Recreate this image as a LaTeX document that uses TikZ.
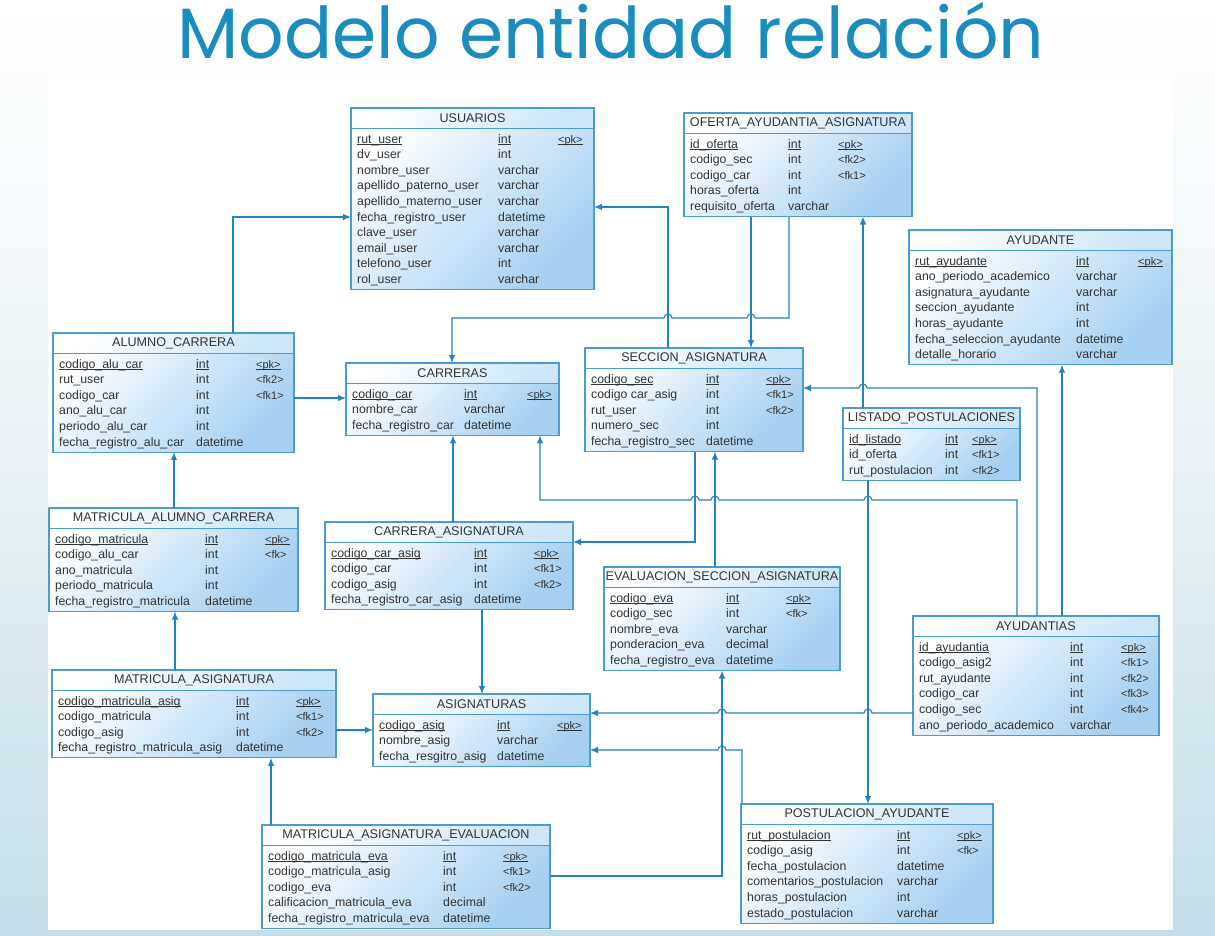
\documentclass[tikz,border=0pt]{standalone}
\usepackage{fontspec}
\usepackage{graphicx}
\setmainfont{Liberation Sans}
\newfontfamily\titlefont{Poppins}
\usetikzlibrary{arrows.meta,calc}
\definecolor{ttl}{RGB}{27,140,190}
\definecolor{lnc}{RGB}{35,130,192}
\definecolor{brd}{RGB}{75,155,210}
\definecolor{bodyb}{RGB}{165,208,242}
\definecolor{headb}{RGB}{205,231,249}
\definecolor{txt}{RGB}{50,50,50}
\definecolor{bgb}{RGB}{196,221,232}
\newsavebox\pkbox
\newcommand{\pkul}[1]{\sbox\pkbox{#1}\rlap{\rule[-1.9pt]{\wd\pkbox}{0.7pt}}\usebox\pkbox}
\tikzset{
  tblbox/.style={top color=white, bottom color=bodyb, shading angle=45, anchor=north west, inner sep=0pt, outer sep=0pt},
  ttlt/.style={text=txt, font=\fontsize{12.6}{14}\selectfont, inner sep=0pt},
  fld/.style={text=txt, font=\fontsize{12.3}{14}\selectfont, inner sep=0pt, anchor=base west},
  keyt/.style={text=txt, font=\fontsize{11}{13}\selectfont, inner sep=0pt, anchor=base west},
  fk/.style={draw=lnc, line width=1.1pt, -{Latex[length=8pt,width=6.5pt]}},
}
\newcommand{\ertable}[9]{%
  \pgfmathsetmacro{\tblh}{20+#5*15.6+5.5}
  \node[tblbox, minimum width=#4pt, minimum height=\tblh pt] (#1) at (#2,#3) {};
  \shade[top color=white, bottom color=headb, shading angle=45] (#1.north west) rectangle ($(#1.north east)+(0,20)$);
  \draw[brd, line width=1.1pt] (#1.north west) rectangle (#1.south east);
  \draw[brd, line width=0.9pt] ($(#1.north west)+(0,20)$) -- ($(#1.north east)+(0,20)$);
  \node[ttlt] (#1-title) at ($(#1.north)+(0,10.5)$) {#6};
  \foreach \f/\t/\k [count=\i] in {#9} {
    \pgfmathsetmacro{\ry}{35+(\i-1)*15.6}
    \node[fld] (#1-f\i) at ($(#1.north west)+(6,\ry)$) {\f};
    \node[fld] (#1-t\i) at ($(#1.north west)+(#7,\ry)$) {\t};
    \node[keyt] (#1-k\i) at ($(#1.north west)+(#8,\ry)$) {\k};
  }
}
\begin{document}
\begin{tikzpicture}[x=1pt,y=-1pt]
\useasboundingbox (0,0) rectangle (1215,935);
\shade[top color=white, bottom color=bgb, middle color=white!60!bgb] (0,0) rectangle (1215,935);
\fill[white] (48,78) rectangle (1173,930);
\node[text=ttl, anchor=base, inner sep=0pt] (title) at (611,58) {\resizebox{867pt}{!}{\titlefont Modelo entidad relación}};

\ertable{usr}{351}{108}{243}{10}{USUARIOS}{147}{207}{%
\pkul{rut\_user}/\pkul{int}/\pkul{<pk>},
dv\_user/int/{},
nombre\_user/varchar/{},
apellido\_paterno\_user/varchar/{},
apellido\_materno\_user/varchar/{},
fecha\_registro\_user/datetime/{},
clave\_user/varchar/{},
email\_user/varchar/{},
telefono\_user/int/{},
rol\_user/varchar/{}}

\ertable{ofe}{684}{113}{228}{5}{OFERTA\_AYUDANTIA\_ASIGNATURA}{104}{154}{%
\pkul{id\_oferta}/\pkul{int}/\pkul{<pk>},
codigo\_sec/int/<fk2>,
codigo\_car/int/<fk1>,
horas\_oferta/int/{},
requisito\_oferta/varchar/{}}

\ertable{ayu}{909}{230}{263}{7}{AYUDANTE}{167}{229}{%
\pkul{rut\_ayudante}/\pkul{int}/\pkul{<pk>},
ano\_periodo\_academico/varchar/{},
asignatura\_ayudante/varchar/{},
seccion\_ayudante/int/{},
horas\_ayudante/int/{},
fecha\_seleccion\_ayudante/datetime/{},
detalle\_horario/varchar/{}}

\ertable{alc}{53}{333}{241}{6}{ALUMNO\_CARRERA}{143}{203}{%
\pkul{codigo\_alu\_car}/\pkul{int}/\pkul{<pk>},
rut\_user/int/<fk2>,
codigo\_car/int/<fk1>,
ano\_alu\_car/int/{},
periodo\_alu\_car/int/{},
fecha\_registro\_alu\_car/datetime/{}}

\ertable{car}{346}{363}{213}{3}{CARRERAS}{118}{181}{%
\pkul{codigo\_car}/\pkul{int}/\pkul{<pk>},
nombre\_car/varchar/{},
fecha\_registro\_car/datetime/{}}

\ertable{sec}{585}{348}{218}{5}{SECCION\_ASIGNATURA}{121}{181}{%
\pkul{codigo\_sec}/\pkul{int}/\pkul{<pk>},
codigo car\_asig/int/<fk1>,
rut\_user/int/<fk2>,
numero\_sec/int/{},
fecha\_registro\_sec/datetime/{}}

\ertable{lis}{843}{408}{177}{3}{LISTADO\_POSTULACIONES}{102}{129}{%
\pkul{id\_listado}/\pkul{int}/\pkul{<pk>},
id\_oferta/int/<fk1>,
rut\_postulacion/int/<fk2>}

\ertable{mac}{49}{508}{249}{5}{MATRICULA\_ALUMNO\_CARRERA}{156}{216}{%
\pkul{codigo\_matricula}/\pkul{int}/\pkul{<pk>},
codigo\_alu\_car/int/<fk>,
ano\_matricula/int/{},
periodo\_matricula/int/{},
fecha\_registro\_matricula/datetime/{}}

\ertable{cas}{325}{522}{248}{4}{CARRERA\_ASIGNATURA}{149}{209}{%
\pkul{codigo\_car\_asig}/\pkul{int}/\pkul{<pk>},
codigo\_car/int/<fk1>,
codigo\_asig/int/<fk2>,
fecha\_registro\_car\_asig/datetime/{}}

\ertable{eva}{604}{567}{236}{5}{EVALUACION\_SECCION\_ASIGNATURA}{122}{182}{%
\pkul{codigo\_eva}/\pkul{int}/\pkul{<pk>},
codigo\_sec/int/<fk>,
nombre\_eva/varchar/{},
ponderacion\_eva/decimal/{},
fecha\_registro\_eva/datetime/{}}

\ertable{ays}{913}{616}{246}{6}{AYUDANTIAS}{157}{208}{%
\pkul{id\_ayudantia}/\pkul{int}/\pkul{<pk>},
codigo\_asig2/int/<fk1>,
rut\_ayudante/int/<fk2>,
codigo\_car/int/<fk3>,
codigo\_sec/int/<fk4>,
ano\_periodo\_academico/varchar/{}}

\ertable{mas}{52}{670}{284}{4}{MATRICULA\_ASIGNATURA}{184}{244}{%
\pkul{codigo\_matricula\_asig}/\pkul{int}/\pkul{<pk>},
codigo\_matricula/int/<fk1>,
codigo\_asig/int/<fk2>,
fecha\_registro\_matricula\_asig/datetime/{}}

\ertable{asi}{373}{694}{217}{3}{ASIGNATURAS}{124}{184}{%
\pkul{codigo\_asig}/\pkul{int}/\pkul{<pk>},
nombre\_asig/varchar/{},
fecha\_resgitro\_asig/datetime/{}}

\ertable{pos}{741}{804}{252}{6}{POSTULACION\_AYUDANTE}{156}{216}{%
\pkul{rut\_postulacion}/\pkul{int}/\pkul{<pk>},
codigo\_asig/int/<fk>,
fecha\_postulacion/datetime/{},
comentarios\_postulacion/varchar/{},
horas\_postulacion/int/{},
estado\_postulacion/varchar/{}}

\ertable{mae}{262}{825}{288}{5}{MATRICULA\_ASIGNATURA\_EVALUACION}{181}{241}{%
\pkul{codigo\_matricula\_eva}/\pkul{int}/\pkul{<pk>},
codigo\_matricula\_asig/int/<fk1>,
codigo\_eva/int/<fk2>,
calificacion\_matricula\_eva/decimal/{},
fecha\_registro\_matricula\_eva/datetime/{}}

% connectors
\draw[fk] (alc.north -| 233,0) -- (233,217) -- (usr.west |- 0,217);
\draw[fk] (sec.north -| 668,0) -- (668,207) -- (usr.east |- 0,207);
\draw[fk] (alc.east |- 0,398) -- (car.west |- 0,398);
\draw[fk] (ofe.south -| 751,0) -- (sec.north -| 751,0);
\draw[fk] (ofe.south -| 789,0) -- (789,318) -- (755,318) arc[start angle=0,end angle=180,radius=4pt] -- (672,318) arc[start angle=0,end angle=180,radius=4pt] -- (452,318) -- (car.north -| 452,0);
\draw[fk] (lis.north -| 863,0) -- (ofe.south -| 863,0);
\draw[fk] (ays.north -| 1037,0) -- (1037,388) -- (867,388) arc[start angle=0,end angle=180,radius=4pt] -- (sec.east |- 0,388);
\draw[fk] (ays.north -| 1062,0) -- (ayu.south -| 1062,0);
\draw[fk] (ays.north -| 1017,0) -- (1017,500) -- (872,500) arc[start angle=0,end angle=180,radius=4pt] -- (719,500) arc[start angle=0,end angle=180,radius=4pt] -- (699,500) arc[start angle=0,end angle=180,radius=4pt] -- (540,500) -- (car.south -| 540,0);
\draw[fk] (lis.south -| 868,0) -- (pos.north -| 868,0);
\draw[fk] (ays.west |- 0,713) -- (872,713) arc[start angle=0,end angle=180,radius=4pt] -- (726,713) arc[start angle=0,end angle=180,radius=4pt] -- (asi.east |- 0,713);
\draw[fk] (pos.north -| 742,0) -- (742,750) -- (726,750) arc[start angle=0,end angle=180,radius=4pt] -- (asi.east |- 0,750);
\draw[fk] (sec.south -| 695,0) -- (695,542) -- (cas.east |- 0,542);
\draw[fk] (eva.north -| 715,0) -- (sec.south -| 715,0);
\draw[fk] (cas.north -| 453,0) -- (car.south -| 453,0);
\draw[fk] (cas.south -| 482,0) -- (asi.north -| 482,0);
\draw[fk] (mac.north -| 174,0) -- (alc.south -| 174,0);
\draw[fk] (mas.north -| 175,0) -- (mac.south -| 175,0);
\draw[fk] (mas.east |- 0,730) -- (asi.west |- 0,730);
\draw[fk] (mae.north -| 271,0) -- (mas.south -| 271,0);
\draw[fk] (mae.east |- 0,876) -- (722,876) -- (eva.south -| 722,0);
\end{tikzpicture}
\end{document}
